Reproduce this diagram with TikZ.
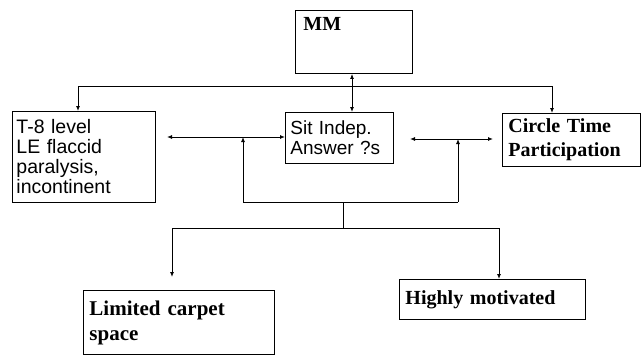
\documentclass[tikz,border=0pt]{standalone}
\usepackage{fontspec}
\setmainfont{Liberation Serif}
\newfontfamily\arialfont{Liberation Sans}
\usetikzlibrary{arrows.meta}

\tikzset{
  box/.style={draw, line width=0.9pt, anchor=north west, align=left,
    inner xsep=5pt, inner ysep=2pt},
  sansbox/.style={box, font=\arialfont\fontsize{19.5}{20}\selectfont},
  serifbox/.style={box, font=\bfseries\fontsize{20}{24}\selectfont},
  link/.style={line width=0.9pt},
  >={Latex[length=5pt,width=4pt]}
}

\begin{document}
\begin{tikzpicture}[x=1pt, y=-1pt]
    \useasboundingbox (0,0) rectangle (641,356);
    % Boxes
    \node[box, minimum width=117pt, minimum height=63pt] (mm) at (295,10) {};
    \node[serifbox, draw=none, anchor=north west, inner xsep=0pt, inner ysep=0pt]
      (mmtext) at (303,17) {MM};
    \node[sansbox, minimum width=143pt, minimum height=91pt, text width=135pt, inner xsep=4pt]
      (t8) at (12,111) {T-8 level\\LE flaccid\\paralysis,\\incontinent};
    \node[sansbox, minimum width=108pt, minimum height=51pt, text width=98pt, inner xsep=5pt,
          font=\arialfont\fontsize{19}{20}\selectfont]
      (sit) at (285,112) {Sit Indep.\\Answer ?s};
    \node[serifbox, minimum width=138pt, minimum height=53pt, text width=126pt, inner xsep=6pt]
      (circ) at (502,113) {Circle Time\\Participation};
    \node[serifbox, minimum width=191pt, minimum height=64pt, text width=179pt, inner xsep=6pt,
          font=\bfseries\fontsize{21}{25}\selectfont]
      (lim) at (83,290) {Limited carpet\\space};
    \node[serifbox, minimum width=186pt, minimum height=40pt, text width=174pt, inner xsep=6pt]
      (high) at (399,279) {Highly motivated};
    % Top bus
    \coordinate (busL) at (78,86);
    \coordinate (busR) at (552,86);
    \coordinate (mid) at (352,86);
    \draw[link] (busL) -- (busR);
    \draw[link, ->] (busL) -- (busL |- t8.north);
    \draw[link, ->] (busR) -- (busR |- circ.north);
    \draw[link, <->] (mid |- mm.south) -- (mid |- sit.north);
    % Side arrows
    \coordinate (lt) at (167,137);
    \coordinate (rt1) at (410,139);
    \coordinate (rt2) at (493,139);
    \draw[link, <->] (lt) -- (lt -| sit.west);
    \draw[link, <->] (rt1) -- (rt2);
    % Lower bracket
    \coordinate (uL) at (243,202);
    \coordinate (uR) at (458,202);
    \coordinate (stem) at (343,202);
    \coordinate (botL) at (172,228);
    \coordinate (botR) at (499,228);
    \draw[link, ->] (uL) -- (uL |- lt);
    \draw[link, ->] (uR) -- (uR |- rt1);
    \draw[link] (uL) -- (uR);
    \draw[link] (stem) -- (stem |- botL);
    \draw[link] (botL) -- (botR);
    \draw[link, ->] (botL) -- (172,277);
    \draw[link, ->] (botR) -- (botR |- high.north);
\end{tikzpicture}
\end{document}
